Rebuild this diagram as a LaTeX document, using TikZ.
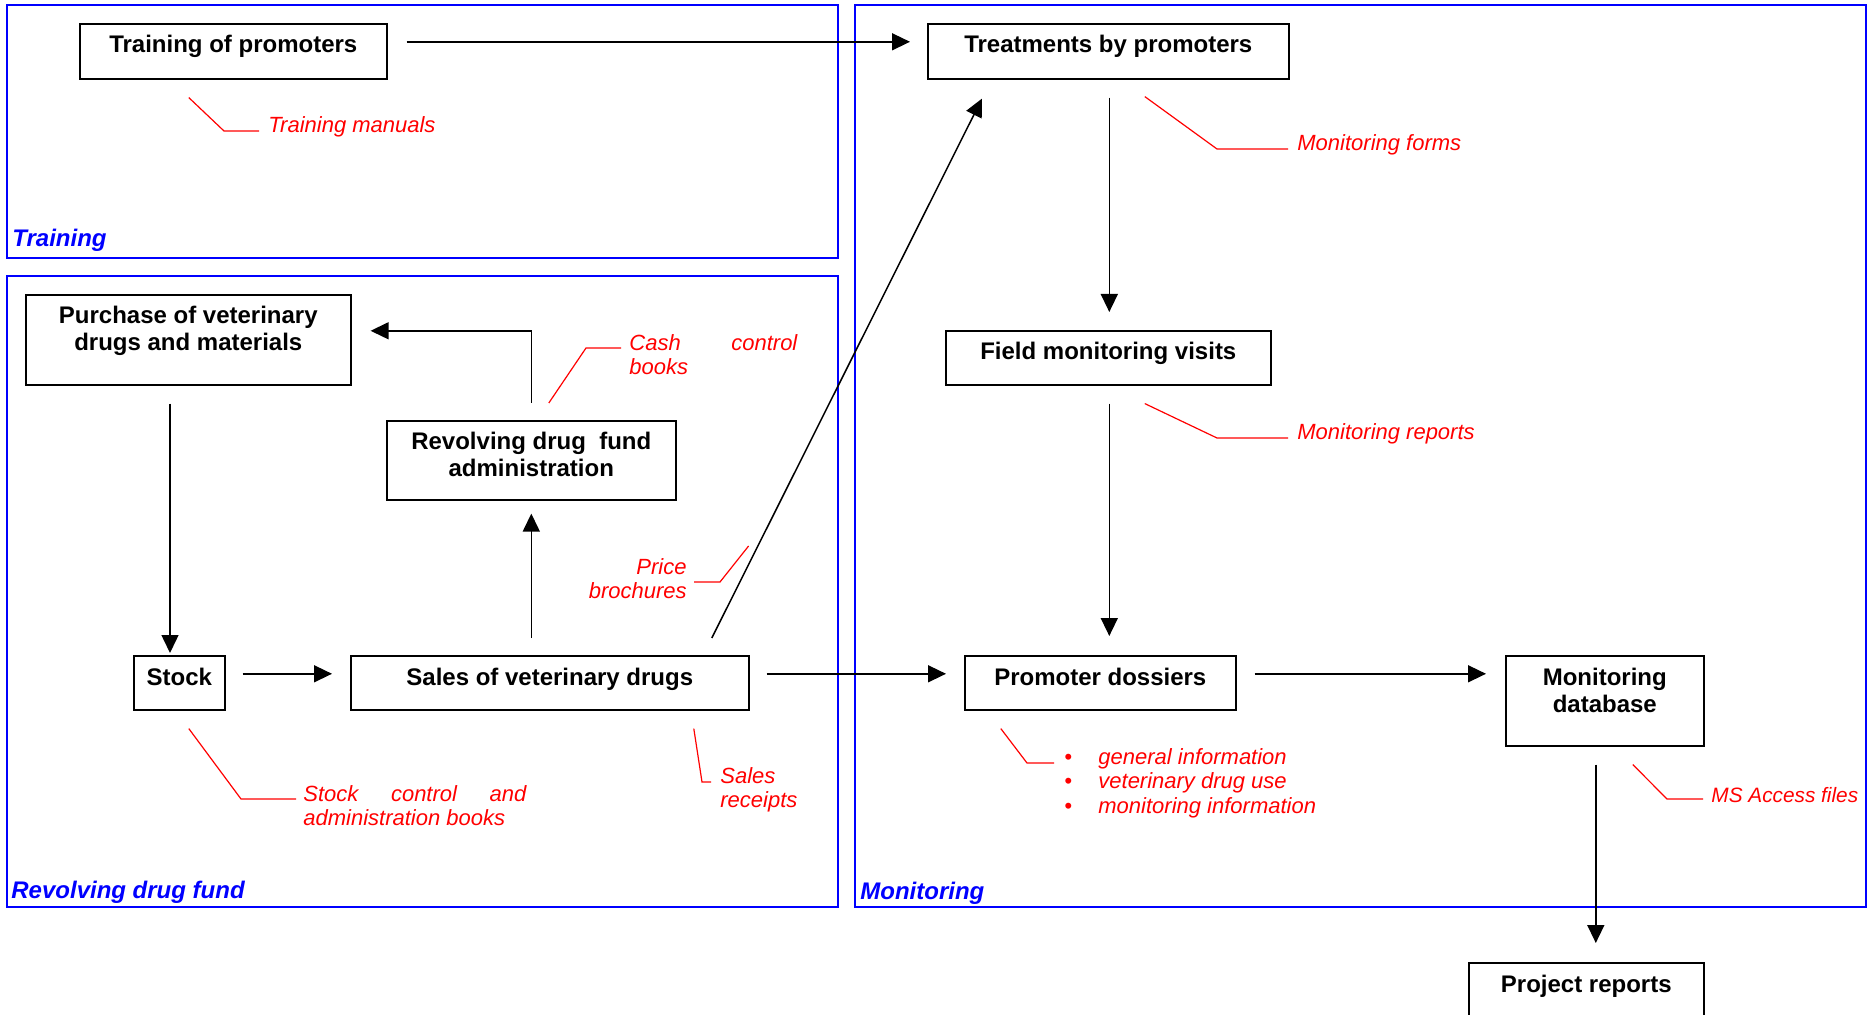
\documentclass[tikz,border=0pt]{standalone}
\usepackage{fontspec}
\setmainfont{Liberation Sans}
\usetikzlibrary{arrows.meta,calc}
\begin{document}
\begin{tikzpicture}[x=0.5pt,y=-0.5pt,
  box/.style={draw=black, line width=0.8pt, inner sep=0pt, anchor=north west},
  boxtext/.style={anchor=base, inner sep=0pt, align=center, font=\fontsize{12}{13.5}\selectfont\bfseries},
  arr/.style={line width=0.75pt, -{Triangle[length=9pt,width=8.5pt]}},
  call/.style={draw=red, line width=0.6pt},
  note/.style={text=red, anchor=base west, inner sep=0pt, align=left, font=\fontsize{11}{12}\selectfont\itshape},
  frame/.style={draw=blue, line width=0.6pt},
  area/.style={text=blue, anchor=base west, inner sep=0pt, font=\fontsize{12}{14}\selectfont\bfseries\itshape}]

\clip (0,0) rectangle (1873,1015);
\fill[white] (0,0) rectangle (1873,1015);

% frames
\draw[frame] (7,5) rectangle (838,258);
\draw[frame] (7,276) rectangle (838,907);
\draw[frame] (855,5) rectangle (1866,907);
\node[area] (lTr) at (12,247) {Training};
\node[area] (lRd) at (11,898) {Revolving drug fund};
\node[area] (lMo) at (860,899) {Monitoring};

% boxes (text baseline of last line given)
\node[box, minimum width=153.5pt, minimum height=27.5pt] (tp) at (79,23) {};
\node[boxtext] (tpT) at ($(tp.north)+(0,30)$) {Training of promoters};
\node[box, minimum width=180.5pt, minimum height=27.5pt] (tr) at (927,23) {};
\node[boxtext] (trT) at ($(tr.north)+(0,30)$) {Treatments by promoters};
\node[box, minimum width=162.5pt, minimum height=27pt] (fm) at (945,330) {};
\node[boxtext] (fmT) at ($(fm.north)+(0,30)$) {Field monitoring visits};
\node[box, minimum width=162.5pt, minimum height=45pt] (pu) at (25,294) {};
\node[boxtext] (puT) at ($(pu.north)+(0,57)$) {Purchase of veterinary\\drugs and materials};
\node[box, minimum width=144.5pt, minimum height=39.5pt] (ra) at (386,420) {};
\node[boxtext] (raT) at ($(ra.north)+(0,57)$) {Revolving drug\ \ fund\\administration};
\node[box, minimum width=45.5pt, minimum height=27pt] (st) at (133,655) {};
\node[boxtext] (stT) at ($(st.north)+(0,30)$) {Stock};
\node[box, minimum width=199pt, minimum height=27pt] (sa) at (350,655) {};
\node[boxtext] (saT) at ($(sa.north)+(0,30)$) {Sales of veterinary drugs};
\node[box, minimum width=135.5pt, minimum height=27pt] (pd) at (964,655) {};
\node[boxtext] (pdT) at ($(pd.north)+(0,30)$) {Promoter dossiers};
\node[box, minimum width=99pt, minimum height=45pt] (db) at (1505,655) {};
\node[boxtext] (dbT) at ($(db.north)+(0,57)$) {Monitoring\\database};
\node[box, minimum width=117.5pt, minimum height=45pt] (pr) at (1468,962) {};
\node[boxtext] (prT) at ($(pr.north)+(0,30)$) {Project reports};

% arrows
\draw[arr] ($(tp.east)+(19,-9.5)$) -- ($(tr.west)+(-17,-9.5)$);
\draw[arr] ($(tr.south)+(1,18)$) -- ($(fm.north)+(1,-18)$);
\draw[arr] ($(fm.south)+(1,18)$) -- ($(fm.south |- pd.north)+(1,-19)$);
\draw[arr] ($(sa.north)+(162,-17)$) -- ($(tr.south west)+(55,19)$);
\draw[arr] ($(ra.north)+(0,-17)$) |- ($(pu.east)+(19,-9)$);
\draw[arr] ($(ra.south |- sa.north)+(0,-17)$) -- ($(ra.south)+(0,13)$);
\draw[arr] ($(pu.south west)+(145,18)$) -- ($(pu.south west |- st.north)+(145,-2)$);
\draw[arr] ($(st.east)+(17,-9)$) -- ($(sa.west)+(-18,-9)$);
\draw[arr] ($(sa.east)+(17,-9)$) -- ($(pd.west)+(-18,-9)$);
\draw[arr] ($(pd.east)+(18,-9)$) -- ($(db.west |- pd.east)+(-19,-9)$);
\draw[arr] ($(db.south)+(-9,18)$) -- ($(db.south |- pr.north)+(-9,-19)$);

% notes (anchor = baseline of last line)
\node[note] (tmT) at (268,133) {Training manuals};
\draw[call] ($(tp.south)+(-44.5,18)$) -- ($(tmT.base west)+(-44,-2)$) -- ($(tmT.base west)+(-9,-2)$);

\node[note] (mfT) at (1297,151) {Monitoring forms};
\draw[call] ($(tr.south)+(36.5,17)$) -- ($(mfT.base west)+(-80,-2)$) -- ($(mfT.base west)+(-9,-2)$);

\node[note] (mrT) at (1297,440) {Monitoring reports};
\draw[call] ($(fm.south)+(36.5,18)$) -- ($(mrT.base west)+(-80,-2)$) -- ($(mrT.base west)+(-9,-2)$);

\node[note] (cbT) at (629,375) {\makebox[84pt][s]{Cash control}\\books};
\draw[call] ($(ra.north)+(17.5,-17)$) -- ($(cbT.base west)+(-43,-27)$) -- ($(cbT.base west)+(-8,-27)$);

\node[note, anchor=base east, align=right] (pbT) at (687,598) {Price\\brochures};
\draw[call] ($(sa.north east)+(-1,-109)$) -- ($(pbT.base east)+(33,-16)$) -- ($(pbT.base east)+(7,-16)$);

\node[note] (scT) at (303,825) {\makebox[111.5pt][s]{Stock control and}\\administration books};
\draw[call] ($(st.south)+(9.5,18)$) -- ($(scT.base west)+(-62,-26)$) -- ($(scT.base west)+(-7,-26)$);

\node[note] (srT) at (720,807) {Sales\\receipts};
\draw[call] ($(sa.south)+(144,18)$) -- ($(srT.base west)+(-18,-25)$) -- ($(srT.base west)+(-9,-25)$);

\node[note, font=\fontsize{11}{12.25}\selectfont\itshape] (bpT) at (1064,813)
  {\makebox[17pt][l]{•}general information\\\makebox[17pt][l]{•}veterinary drug use\\\makebox[17pt][l]{•}monitoring information};
\draw[call] ($(pd.south)+(-99.5,18)$) -- ($(bpT.base west)+(-37,-50)$) -- ($(bpT.base west)+(-10,-50)$);

\node[note, font=\fontsize{10.4}{12}\selectfont\itshape] (maT) at (1711,802) {MS Access files};
\draw[call] ($(db.south)+(28,18)$) -- ($(maT.base west)+(-44,-3)$) -- ($(maT.base west)+(-8,-3)$);

\end{tikzpicture}
\end{document}
